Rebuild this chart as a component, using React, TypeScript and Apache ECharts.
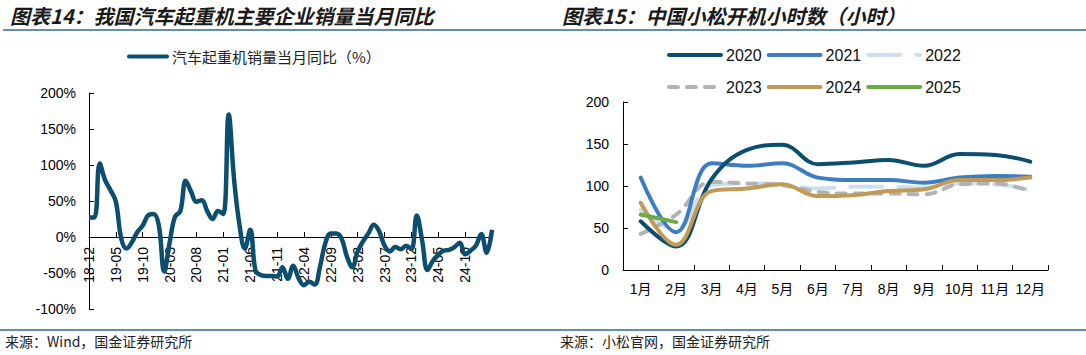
import React, { useEffect, useRef } from "react";
import * as echarts from "echarts";

// ---------- Left chart data ----------
const months: string[] = (() => {
  const out: string[] = [];
  let y = 18, m = 12;
  for (let i = 0; i < 76; i++) {
    out.push(`${y}-${String(m).padStart(2, "0")}`);
    m++;
    if (m > 12) { m = 1; y++; }
  }
  return out;
})();

const craneYoY: number[] = [
  27, 27, 102, 79, 65, 49, -2, -16, -7, 7,
  16, 30, 32, 16, -48, -8, 28, 36, 78, 63,
  49, 51, 36, 25, 36, 32, 170, 80, 17, -16,
  10, -47, -53, -54, -54, -55, -42, -58, -40, -57,
  -67, -62, -66, -41, -8, 5, 5, -2, -27, -42,
  -20, -6, 5, 17, 8, -12, -20, -14, -17, -12,
  -17, 30, -5, -46, -33, -25, -19, -18, -14, -8,
  -24, -19, -12, 4, -22, 10,
];

const leftYTicks = { min: -100, max: 200, interval: 50 };

// ---------- Right chart data ----------
const monthLabels: string[] = ["1月", "2月", "3月", "4月", "5月", "6月", "7月", "8月", "9月", "10月", "11月", "12月"];
const hours2020: number[] = [58, 28, 108, 143, 149, 126, 128, 131, 124, 138, 137, 129];
const hours2021: number[] = [110, 45, 127, 124, 127, 110, 107, 107, 104, 110, 112, 111];
const hours2022: number[] = [72, 48, 101, 103, 102, 97, 99, 99, 98, 103, 102, 95];
const hours2023: number[] = [43, 66, 105, 103, 101, 93, 91, 91, 90, 102, 103, 94];
const hours2024: number[] = [80, 30, 94, 97, 102, 88, 89, 94, 96, 107, 107, 110];
const hours2025: number[] = [66, 57];

const rightYTicks = { min: 0, max: 200, interval: 50 };

const NAVY = "#0B4E6E";
const FONT = "'Liberation Sans', Arial, 'Noto Sans CJK SC', sans-serif";
const CJK = "'Noto Sans CJK SC', sans-serif";
const RULE = "#2E6A93";

export default function App() {
  const ref = useRef<HTMLDivElement>(null);

  useEffect(() => {
    document.body.style.margin = "0";
    const chart = echarts.init(ref.current!, undefined, { renderer: "svg" });

    const axisLine = { show: true, lineStyle: { color: "#000", width: 1 } };
    const axisTick = { show: true, inside: true, length: 5, lineStyle: { color: "#000" } };
    const legendCommon = {
      itemStyle: { opacity: 0 },
      lineStyle: { width: 4, cap: "round" },
    };

    const option: any = {
      animation: false,
      backgroundColor: "#fff",
      textStyle: { fontFamily: FONT },
      grid: [
        { left: 89, right: 594, top: 93, bottom: 46, containLabel: false },
        { left: 623, right: 38, top: 102, bottom: 85, containLabel: false },
      ],
      legend: [
        {
          ...legendCommon,
          data: ["汽车起重机销量当月同比（%）"],
          left: 122,
          top: 44,
          itemWidth: 38,
          itemHeight: 14,
          textStyle: { fontSize: 15, color: "#222", fontFamily: CJK },
        },
        {
          ...legendCommon,
          data: ["2020", "2021", "2022"],
          left: 662,
          top: 42,
          itemWidth: 52,
          itemHeight: 16,
          itemGap: 5,
          textStyle: { fontSize: 16, color: "#111", fontFamily: FONT },
        },
        {
          ...legendCommon,
          data: ["2023", "2024", "2025"],
          left: 662,
          top: 74,
          itemWidth: 52,
          itemHeight: 16,
          itemGap: 5,
          textStyle: { fontSize: 16, color: "#111", fontFamily: FONT },
        },
      ],
      xAxis: [
        {
          type: "category",
          gridIndex: 0,
          data: months,
          boundaryGap: false,
          axisLine: { ...axisLine, onZero: true },
          axisTick: { ...axisTick, interval: (i: number) => i % 5 === 0 },
          axisLabel: {
            interval: (i: number) => i % 5 === 0 && i < 75,
            rotate: 90,
            fontSize: 14,
            color: "#000",
            margin: -62,
            fontFamily: FONT,
          },
          splitLine: { show: false },
        },
        {
          type: "category",
          gridIndex: 1,
          data: monthLabels,
          boundaryGap: true,
          axisLine,
          axisTick: { ...axisTick, alignWithLabel: false },
          axisLabel: { interval: 0, fontSize: 14, color: "#000", margin: 12, fontFamily: FONT },
          splitLine: { show: false },
        },
      ],
      yAxis: [
        {
          type: "value",
          gridIndex: 0,
          ...leftYTicks,
          axisLine,
          axisTick,
          axisLabel: { formatter: "{value}%", fontSize: 14, color: "#000", margin: 13, fontFamily: FONT },
          splitLine: { show: false },
        },
        {
          type: "value",
          gridIndex: 1,
          ...rightYTicks,
          axisLine,
          axisTick,
          axisLabel: { fontSize: 14, color: "#000", margin: 14, fontFamily: FONT },
          splitLine: { show: false },
        },
      ],
      series: [
        {
          name: "汽车起重机销量当月同比（%）",
          type: "line",
          xAxisIndex: 0,
          yAxisIndex: 0,
          data: craneYoY,
          smooth: 0.4,
          symbol: "none",
          lineStyle: { color: NAVY, width: 4.5 },
          itemStyle: { color: NAVY },
        },
        {
          name: "2022",
          type: "line",
          xAxisIndex: 1,
          yAxisIndex: 1,
          data: hours2022,
          smooth: 0.4,
          symbol: "none",
          lineStyle: { color: "#CDE0F2", width: 4, type: [32, 16], cap: "round" },
          itemStyle: { color: "#CDE0F2" },
          z: 2,
        },
        {
          name: "2023",
          type: "line",
          xAxisIndex: 1,
          yAxisIndex: 1,
          data: hours2023,
          smooth: 0.4,
          symbol: "none",
          lineStyle: { color: "#B3B3B3", width: 4, type: [9, 9], cap: "round" },
          itemStyle: { color: "#B3B3B3" },
          z: 3,
        },
        {
          name: "2021",
          type: "line",
          xAxisIndex: 1,
          yAxisIndex: 1,
          data: hours2021,
          smooth: 0.4,
          symbol: "none",
          lineStyle: { color: "#3F7DC1", width: 4, cap: "round" },
          itemStyle: { color: "#3F7DC1" },
          z: 4,
        },
        {
          name: "2020",
          type: "line",
          xAxisIndex: 1,
          yAxisIndex: 1,
          data: hours2020,
          smooth: 0.4,
          symbol: "none",
          lineStyle: { color: NAVY, width: 4, cap: "round" },
          itemStyle: { color: NAVY },
          z: 5,
        },
        {
          name: "2024",
          type: "line",
          xAxisIndex: 1,
          yAxisIndex: 1,
          data: hours2024,
          smooth: 0.4,
          symbol: "none",
          lineStyle: { color: "#C29A57", width: 4, cap: "round" },
          itemStyle: { color: "#C29A57" },
          z: 6,
        },
        {
          name: "2025",
          type: "line",
          xAxisIndex: 1,
          yAxisIndex: 1,
          data: hours2025,
          smooth: 0.4,
          symbol: "none",
          lineStyle: { color: "#6AAB46", width: 4, cap: "round" },
          itemStyle: { color: "#6AAB46" },
          z: 7,
        },
      ],
      graphic: [
        {
          type: "text",
          left: 10,
          top: 5,
          style: {
            text: "图表14：我国汽车起重机主要企业销量当月同比",
            fontSize: 20,
            fontStyle: "italic",
            fontWeight: "bold",
            fontFamily: CJK,
            fill: "#1a1a1a",
          },
        },
        {
          type: "text",
          left: 562,
          top: 5,
          style: {
            text: "图表15：中国小松开机小时数（小时）",
            fontSize: 20,
            fontStyle: "italic",
            fontWeight: "bold",
            fontFamily: CJK,
            fill: "#1a1a1a",
          },
        },
        {
          type: "line",
          shape: { x1: 3, y1: 30, x2: 1086, y2: 30 },
          style: { stroke: RULE, lineWidth: 1.5 },
        },
        {
          type: "line",
          shape: { x1: 0, y1: 330, x2: 1086, y2: 330 },
          style: { stroke: RULE, lineWidth: 1.5 },
        },
        {
          type: "text",
          left: 5,
          top: 334,
          style: { text: "来源：Wind，国金证券研究所", fontSize: 14, fontFamily: CJK, fill: "#222" },
        },
        {
          type: "text",
          left: 560,
          top: 334,
          style: { text: "来源：小松官网，国金证券研究所", fontSize: 14, fontFamily: CJK, fill: "#222" },
        },
      ],
    };

    chart.setOption(option);
    return () => chart.dispose();
  }, []);

  return (
    <div
      ref={ref}
      style={{ position: "absolute", left: 0, top: 0, width: 1086, height: 355 }}
    />
  );
}
